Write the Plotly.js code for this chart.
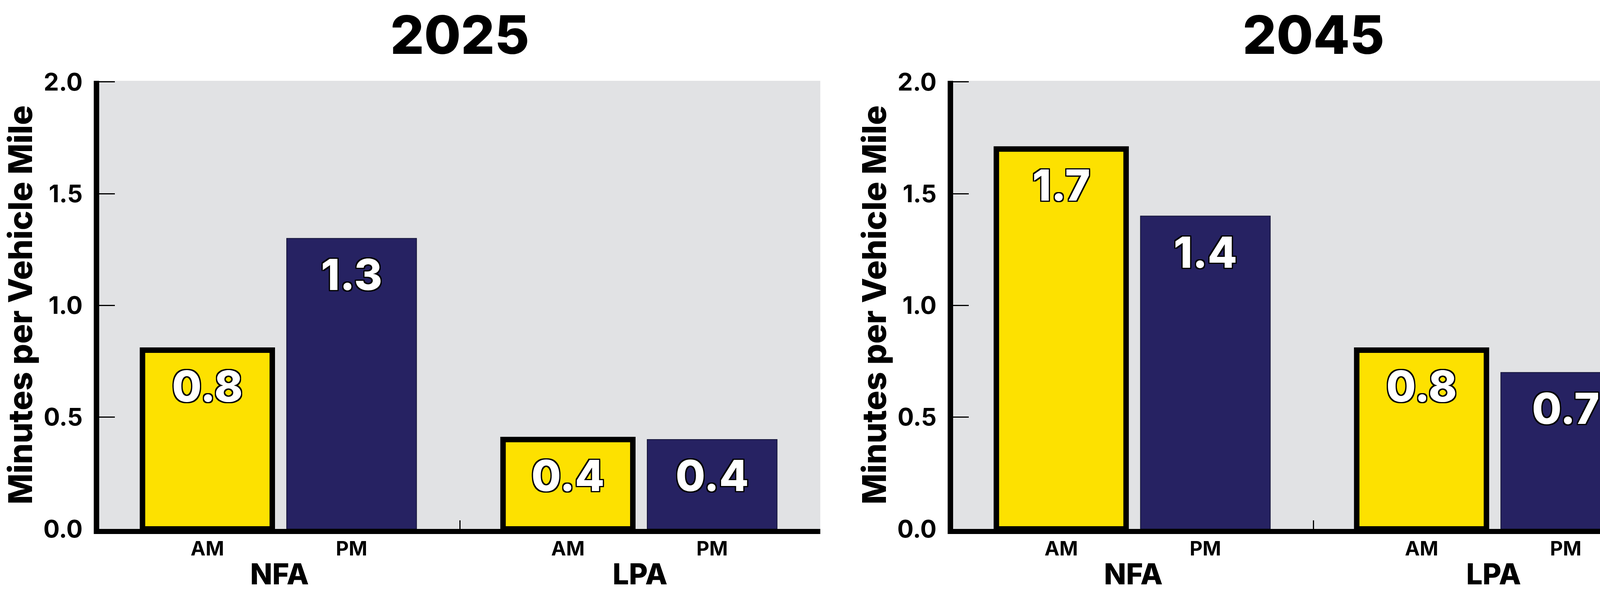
<!DOCTYPE html>
<html>
<head>
<meta charset="utf-8">
<script src="https://cdn.plot.ly/plotly-3.0.1.min.js"></script>
<style>html,body{margin:0;padding:0;background:#fff;overflow:hidden;}</style>
</head>
<body>
<div id="chart" style="width:4314px;height:1514px;"></div>
<script>
// ---- data ----
const groups = ["NFA", "LPA"];
const periods = ["AM", "PM"];
const years = ["2025", "2045"];
const am2025 = [0.8, 0.4];
const pm2025 = [1.3, 0.4];
const am2045 = [1.7, 0.8];
const pm2045 = [1.4, 0.7];
const yTickVals = [0, 0.5, 1.0, 1.5, 2.0];
const yTitle = "Minutes per Vehicle Mile";

// ---- style ----
const FONT = "Inter, 'Open Sans', 'Noto Sans', sans-serif";
const YELLOW = "#FDE100";
const NAVY = "#262262";
const BG = "#E1E2E4";
const STROKE = "-3px -3px 0 #000, 3px -3px 0 #000, -3px 3px 0 #000, 3px 3px 0 #000, 0 3px 0 #000, 0 -3px 0 #000, 3px 0 0 #000, -3px 0 0 #000";

const seriesByYear = [
  {AM: am2025, PM: pm2025},
  {AM: am2045, PM: pm2045}
];

const traces = [];
seriesByYear.forEach((s, i) => {
  const xa = i === 0 ? "x" : "x2";
  const ya = i === 0 ? "y" : "y2";
  periods.forEach(p => {
    const isAM = p === "AM";
    traces.push({
      type: "bar", x: groups, y: s[p], name: p, xaxis: xa, yaxis: ya,
      offsetgroup: p, showlegend: false,
      marker: {color: isAM ? YELLOW : NAVY,
               line: {color: isAM ? "#000" : "#15153a", width: isAM ? 14 : 2}},
      hoverinfo: "skip"
    });
  });
  periods.forEach(p => {
    traces.push({
      type: "scatter", mode: "markers+text", x: groups, y: s[p], xaxis: xa, yaxis: ya,
      offsetgroup: p, showlegend: false, hoverinfo: "skip",
      text: s[p].map(v => v.toFixed(1)), textposition: "bottom center",
      marker: {size: 78, color: "rgba(0,0,0,0)", line: {width: 0}},
      textfont: {family: FONT, size: 110, color: "#fff", weight: 800, shadow: STROKE},
      cliponaxis: false
    });
  });
  periods.forEach(p => {
    traces.push({
      type: "scatter", mode: "markers+text", x: groups, y: groups.map(() => 0), xaxis: xa, yaxis: ya,
      offsetgroup: p, showlegend: false, hoverinfo: "skip",
      text: groups.map(() => p), textposition: "bottom center",
      marker: {size: 46, color: "rgba(0,0,0,0)", line: {width: 0}},
      textfont: {family: FONT, size: 51, color: "#000", weight: 700},
      cliponaxis: false
    });
  });
});

function xAxis(domain, anchor) {
  return {
    domain: domain, anchor: anchor, type: "category",
    showline: true, linewidth: 13, linecolor: "#000",
    ticks: "inside", tickson: "boundaries", ticklen: 22, tickwidth: 3, tickcolor: "#000",
    tickfont: {family: FONT, size: 74, color: "#000", weight: 800},
    ticklabelstandoff: 40, showgrid: false, zeroline: false, fixedrange: true
  };
}
function yAxis(anchor) {
  return {
    domain: [0, 1], anchor: anchor, range: [0, 2.005],
    tickvals: yTickVals, ticktext: yTickVals.map(v => v.toFixed(1)),
    showline: true, linewidth: 14, linecolor: "#000",
    ticks: "inside", ticklen: 40, tickwidth: 3, tickcolor: "#000",
    tickfont: {family: FONT, size: 62, color: "#000", weight: 700},
    ticklabelstandoff: 16,
    showgrid: false, zeroline: false, fixedrange: true,
    title: {text: yTitle, font: {family: FONT, size: 84, color: "#000", weight: 800}, standoff: 6}
  };
}

const layout = {
  width: 4314, height: 1514,
  margin: {l: 0, r: 0, t: 207, b: 159},
  paper_bgcolor: "#fff", plot_bgcolor: BG,
  barmode: "group", bargap: 0.2, bargroupgap: 0.1,
  scattermode: "group", scattergap: 0.2,
  xaxis: xAxis([254 / 4314, 2100 / 4314], "y"),
  yaxis: yAxis("x"),
  xaxis2: xAxis([2440 / 4314, 4285 / 4314], "y2"),
  yaxis2: yAxis("x2"),
  annotations: years.map((yr, i) => ({
    text: yr, xref: (i === 0 ? "x" : "x2") + " domain", yref: (i === 0 ? "y" : "y2") + " domain",
    x: 0.5, y: 1.103, xanchor: "center", yanchor: "middle", showarrow: false,
    font: {family: FONT, size: 136, color: "#000", weight: 800}
  }))
};

Plotly.newPlot("chart", traces, layout, {displayModeBar: false, staticPlot: true});
</script>
</body>
</html>
